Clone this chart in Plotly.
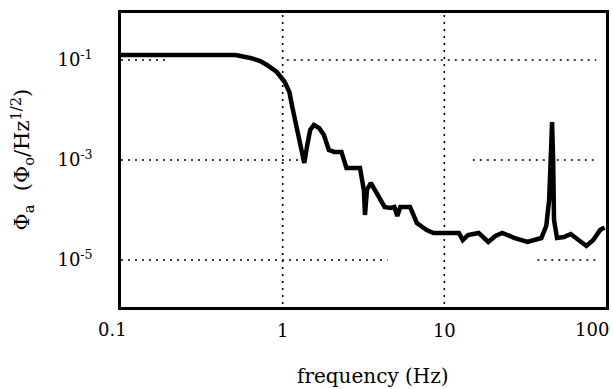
import plotly.graph_objects as go

# Flux noise spectrum
frequency_hz = [0.1, 0.18, 0.314, 0.512, 0.63, 0.726, 0.80, 0.92, 1.03, 1.10,
                1.15, 1.22, 1.27, 1.32, 1.36, 1.42, 1.48, 1.56, 1.68, 1.80,
                1.93, 2.09, 2.31, 2.48, 2.73, 3.01, 3.10, 3.18, 3.23, 3.32,
                3.51, 3.87, 4.27, 4.64, 4.91, 5.12, 5.34, 6.14, 6.76, 7.78,
                8.58, 10.3, 12.3, 13.0, 14.0, 16.3, 18.7, 20.7, 22.8, 27.3,
                32.7, 39.8, 42.7, 44.5, 45.8, 46.4, 47.1, 47.7, 49.8, 54.9,
                60.5, 67.6, 75.6, 83.4, 92.0, 98.0]
flux_noise = [0.126, 0.126, 0.126, 0.126, 0.110, 0.0955, 0.0794, 0.0575, 0.0363, 0.0229,
              0.011, 4.37e-3, 2.51e-3, 1.58e-3, 8.71e-4, 2.0e-3, 3.98e-3, 5.01e-3, 4.37e-3, 3.16e-3,
              1.58e-3, 1.45e-3, 1.45e-3, 6.92e-4, 6.92e-4, 6.92e-4, 3.98e-4, 2.51e-4, 7.94e-5, 2.51e-4,
              3.47e-4, 2.0e-4, 1.15e-4, 1.10e-4, 1.15e-4, 7.59e-5, 1.15e-4, 1.15e-4, 5.5e-5, 3.98e-5,
              3.47e-5, 3.47e-5, 3.47e-5, 2.51e-5, 3.16e-5, 3.47e-5, 2.29e-5, 3.02e-5, 3.47e-5, 2.75e-5,
              2.29e-5, 2.75e-5, 4.79e-5, 1.58e-4, 1.0e-3, 5.75e-3, 1.0e-3, 6.31e-5, 2.75e-5, 2.88e-5,
              3.31e-5, 2.51e-5, 1.91e-5, 2.51e-5, 3.98e-5, 4.5e-5]

# Inner decades are axis ticks; the two end decades sit at the frame edges
x_tick_vals = [1, 10]
x_tick_text = ["1", "10"]
x_edge_labels = ["0.1", "100"]
y_tick_vals = [1e-1, 1e-3, 1e-5]
y_tick_text = ["10<sup>-1</sup>", "10<sup>-3</sup>", "10<sup>-5</sup>"]

# Dotted grid: horizontal runs (level, start, end) and vertical lines
h_grid_runs = [(1e-1, 0.1, 0.193), (1e-1, 1.06, 86.9),
               (1e-3, 0.1, 1.27), (1e-3, 15.0, 86.9),
               (1e-5, 0.1, 4.45), (1e-5, 37.6, 86.9)]
v_grid_at = [1, 10]

FONT = "DejaVu Serif"
TICK_FONT = dict(family=FONT, size=18, color="black")
GRID = dict(color="black", width=1.6, dash="2px,5px")

fig = go.Figure()
for level, x0, x1 in h_grid_runs:
    fig.add_trace(go.Scatter(x=[x0, x1], y=[level, level], mode="lines",
                             line=GRID, hoverinfo="skip", showlegend=False))
for xv in v_grid_at:
    fig.add_trace(go.Scatter(x=[xv, xv], y=[1e-7, 1.0], mode="lines",
                             line=GRID, hoverinfo="skip", showlegend=False))

fig.add_trace(go.Scatter(x=frequency_hz, y=flux_noise, mode="lines",
                         line=dict(color="black", width=4.5, shape="linear"),
                         showlegend=False))

fig.update_xaxes(type="log", range=[-1, 2], tickvals=x_tick_vals, ticktext=x_tick_text,
                 showgrid=False, zeroline=False, showline=True, mirror=True,
                 linecolor="black", linewidth=2.5, ticks="", ticklabelstandoff=6,
                 tickfont=TICK_FONT)
fig.update_yaxes(type="log", range=[-5.94, -0.06], tickvals=y_tick_vals, ticktext=y_tick_text,
                 showgrid=False, zeroline=False, showline=True, mirror=True,
                 linecolor="black", linewidth=2.5, ticks="", ticklabelstandoff=22,
                 tickfont=TICK_FONT)

for label, xpos in zip(x_edge_labels, [-0.018, 0.971]):
    fig.add_annotation(text=label, xref="paper", yref="paper", x=xpos, y=-0.078,
                       xanchor="center", yanchor="middle", showarrow=False, font=TICK_FONT)

fig.add_annotation(text="frequency (Hz)", xref="paper", yref="paper",
                   x=0.52, y=-0.235, xanchor="center", yanchor="middle", showarrow=False,
                   font=dict(family=FONT, size=20, color="black"))
fig.add_annotation(text="Φ<sub>a</sub>  (Φ<sub>o</sub>/Hz<sup>1/2</sup>)", xref="paper", yref="paper",
                   x=-0.205, y=0.50, xanchor="center", yanchor="middle", textangle=-90,
                   showarrow=False, font=dict(family=FONT, size=21, color="black"))

fig.update_layout(width=613, height=389, margin=dict(l=121, r=4, t=13, b=82),
                  paper_bgcolor="white", plot_bgcolor="white")

fig.write_html("out.html")
